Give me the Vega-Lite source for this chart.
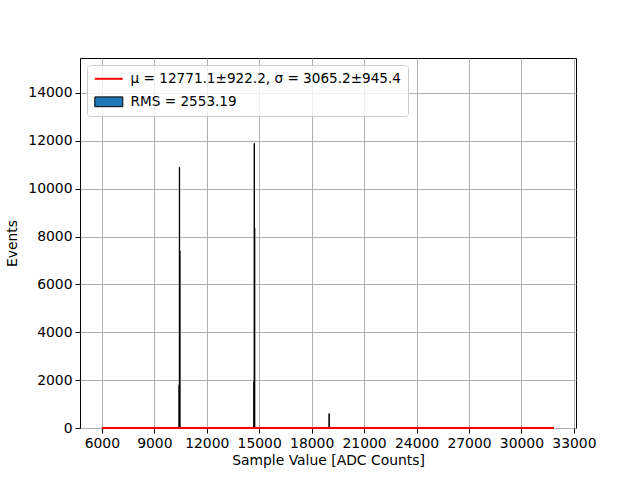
{
  "$schema": "https://vega.github.io/schema/vega-lite/v6.json",
  "width": 496,
  "height": 370,
  "autosize": {"type": "none"},
  "padding": {"left": 80, "top": 58, "right": 64, "bottom": 52},
  "background": "white",
  "config": {
    "font": "DejaVu Sans",
    "view": {"stroke": "black", "strokeWidth": 1},
    "axis": {
      "domain": false,
      "grid": true,
      "gridColor": "#b0b0b0",
      "gridWidth": 1,
      "ticks": true,
      "tickColor": "black",
      "tickSize": 5,
      "tickWidth": 1,
      "labelFont": "DejaVu Sans",
      "labelFontSize": 13.9,
      "labelColor": "black",
      "titleFont": "DejaVu Sans",
      "titleFontSize": 13.9,
      "titleFontWeight": "normal",
      "titleColor": "black",
      "labelPadding": 3
    }
  },
  "datasets": {
    "bins": [
      {"lo": 10410, "hi": 10430, "count": 1800},
      {"lo": 10430, "hi": 10450, "count": 10890},
      {"lo": 10450, "hi": 10470, "count": 7400},
      {"lo": 14690, "hi": 14710, "count": 1935},
      {"lo": 14710, "hi": 14730, "count": 11893},
      {"lo": 14730, "hi": 14750, "count": 8360},
      {"lo": 18990, "hi": 19010, "count": 600}
    ],
    "fit": [
      {"x": 6000, "y": 0},
      {"x": 12771, "y": 0},
      {"x": 19000, "y": 0},
      {"x": 25000, "y": 0},
      {"x": 31860, "y": 0}
    ]
  },
  "layer": [
    {
      "data": {"name": "bins"},
      "mark": {"type": "rect", "fill": "#1f77b4", "stroke": "black", "strokeWidth": 1},
      "encoding": {
        "x": {
          "field": "lo", "type": "quantitative",
          "scale": {"domain": [4750, 33120], "nice": false, "zero": false},
          "axis": {"values": [6000, 9000, 12000, 15000, 18000, 21000, 24000, 27000, 30000, 33000], "format": "d", "title": "Sample Value [ADC Counts]", "titlePadding": 4}
        },
        "x2": {"field": "hi"},
        "y": {
          "field": "count", "type": "quantitative",
          "scale": {"domain": [0, 15460], "nice": false},
          "axis": {"values": [0, 2000, 4000, 6000, 8000, 10000, 12000, 14000], "format": "d", "title": "Events", "titlePadding": 8}
        },
        "y2": {"datum": 0}
      }
    },
    {
      "data": {"name": "fit"},
      "mark": {"type": "line"},
      "encoding": {
        "x": {"field": "x", "type": "quantitative"},
        "y": {"field": "y", "type": "quantitative"},
        "strokeWidth": {"value": 2},
        "color": {
          "datum": "μ = 12771.1±922.2, σ = 3065.2±945.4",
          "scale": {"domain": ["μ = 12771.1±922.2, σ = 3065.2±945.4", "RMS = 2553.19"], "range": ["red", "black"]},
          "legend": {
            "title": null,
            "orient": "top-left",
            "offset": 7,
            "fillColor": "rgba(255,255,255,0.8)",
            "strokeColor": "#cccccc",
            "cornerRadius": 3,
            "padding": 7,
            "rowPadding": 8,
            "symbolSize": 196,
            "symbolOffset": 8,
            "labelOffset": 15,
            "labelFont": "DejaVu Sans",
            "labelFontSize": 13.6,
            "labelColor": "black",
            "labelLimit": 400,
            "symbolOpacity": 1,
            "symbolType": {"expr": "datum.value == 'RMS = 2553.19' ? 'M-2,-0.7H2V0.7H-2Z' : 'M-2,0H2'"},
            "symbolFillColor": {"expr": "datum.value == 'RMS = 2553.19' ? '#1f77b4' : 'transparent'"},
            "symbolStrokeColor": {"expr": "datum.value == 'RMS = 2553.19' ? 'black' : 'red'"},
            "symbolStrokeWidth": {"expr": "datum.value == 'RMS = 2553.19' ? 1 : 2"}
          }
        }
      }
    }
  ]
}
